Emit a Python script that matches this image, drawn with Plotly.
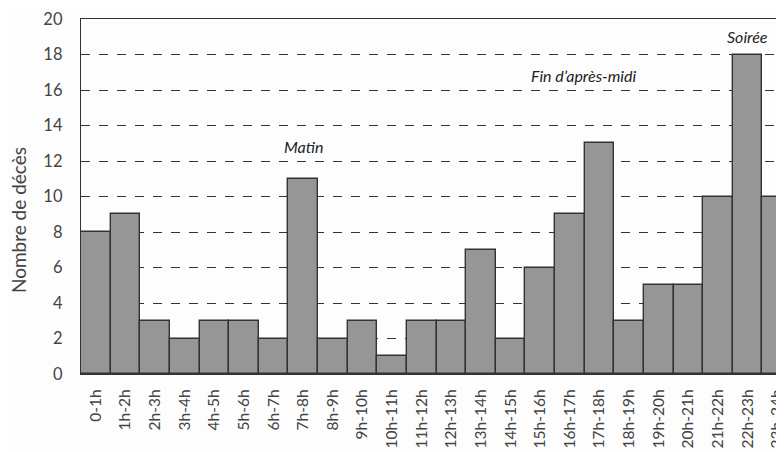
import plotly.graph_objects as go

categories = ["0-1h", "1h-2h", "2h-3h", "3h-4h", "4h-5h", "5h-6h", "6h-7h", "7h-8h",
              "8h-9h", "9h-10h", "10h-11h", "11h-12h", "12h-13h", "13h-14h", "14h-15h",
              "15h-16h", "16h-17h", "17h-18h", "18h-19h", "19h-20h", "20h-21h", "21h-22h",
              "22h-23h", "23h-24h"]
deaths = [8, 9, 3, 2, 3, 3, 2, 11, 2, 3, 1, 3, 3, 7, 2, 6, 9, 13, 3, 5, 5, 10, 18, 10]
y_ticks = [0, 2, 4, 6, 8, 10, 12, 14, 16, 18, 20]

labels = ["Matin", "Fin d\u2019après-midi", "Soirée"]
label_x = [7, 16.45, 22]
label_y = [12.8, 16.8, 19.0]

font_family = "Lato, Open Sans, sans-serif"

fig = go.Figure()
fig.add_trace(go.Bar(
    x=list(range(len(categories))), y=deaths,
    marker=dict(color="#969696", line=dict(color="#333333", width=1.4)),
    width=1.0,
))

for t, x, y in zip(labels, label_x, label_y):
    fig.add_annotation(x=x, y=y, text=f"<i>{t}</i>", showarrow=False,
                       font=dict(size=16, color="#222222", family=font_family))

# y-axis title (placed as rotated text, slightly below the axis centre as in the reference)
fig.add_annotation(xref="paper", yref="paper", x=-0.087, y=0.434,
                   text="Nombre de décès", textangle=-90, showarrow=False,
                   xanchor="center", yanchor="middle",
                   font=dict(size=19, color="#444444", family=font_family))

fig.update_layout(
    width=784, height=452,
    margin=dict(l=73, r=0, t=11, b=86, autoexpand=False),
    paper_bgcolor="#fdfdfd", plot_bgcolor="#fdfdfd",
    bargap=0, showlegend=False,
    font=dict(family=font_family, color="#444444"),
)
fig.update_xaxes(
    tickmode="array", tickvals=list(range(len(categories))), ticktext=categories,
    tickangle=-90, range=[-0.5, 23.5], showgrid=False,
    showline=True, linecolor="#333333", linewidth=1.4, mirror=True,
    ticks="", ticklabelstandoff=8, tickfont=dict(size=15.5, color="#444444"),
    automargin=False, ticklabeloverflow="allow",
)
fig.update_yaxes(
    range=[0, 20], tickvals=y_ticks, showgrid=True, gridcolor="#333333",
    griddash="dash", gridwidth=1, zeroline=False,
    showline=True, linecolor="#333333", linewidth=1.4,
    ticks="", ticklabelstandoff=14, tickfont=dict(size=16.5, color="#444444"),
    automargin=False, ticklabeloverflow="allow",
)

fig.write_html("out.html")
